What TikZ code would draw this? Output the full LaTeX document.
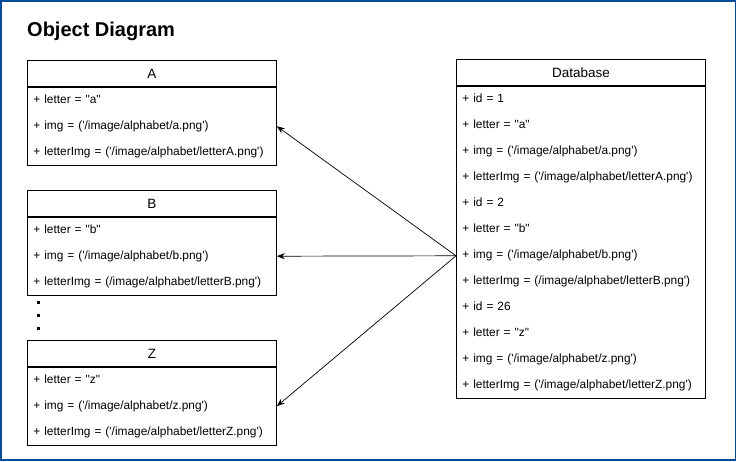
\documentclass[tikz,border=0pt]{standalone}
\usepackage{fontspec}
\setmainfont{Liberation Sans}[Ligatures=TeXOff]
\usetikzlibrary{positioning,arrows.meta}
\definecolor{azulmarco}{RGB}{0,76,153}
\tikzstyle{cabecera} = [draw, rectangle, line width=0.8pt, minimum width=249pt, minimum height=26pt, inner sep=0pt, font=\fontsize{13.5}{16}\selectfont]
\tikzstyle{atributos} = [draw, rectangle, line width=0.8pt, minimum width=249pt, text width=237pt, inner xsep=6pt, inner ysep=0pt, align=left, font=\fontsize{11.9}{26}\selectfont]
\tikzstyle{titulo} = [inner sep=0pt, font=\fontsize{20}{24}\selectfont\bfseries]
\tikzstyle{flecha} = [-{Stealth[length=8pt,width=6pt]}, line width=0.7pt]

\begin{document}
\begin{tikzpicture}[x=1pt, y=-1pt]
	\useasboundingbox (0,0) rectangle (737,461);
	\draw[azulmarco, line width=1.5pt] (0.75,0.75) rectangle (735.5,460);
	\node[titulo, anchor=base west] (titulo) at (27,36.5) {Object Diagram};
	% objeto A
	\node[cabecera, anchor=north west] (A) at (27,60) {A};
	\node[atributos, minimum height=78pt, below=0pt of A] (Aattr) {
		+ letter = "a"\\
		+ img = ('/image/alphabet/a.png')\\
		+ letterImg = ('/image/alphabet/letterA.png')};
	% objeto B
	\node[cabecera, anchor=north west] (B) at (27,190) {B};
	\node[atributos, minimum height=78pt, below=0pt of B] (Battr) {
		+ letter = "b"\\
		+ img = ('/image/alphabet/b.png')\\
		+ letterImg = (/image/alphabet/letterB.png')};
	\foreach \y in {302.5,315.5,328.5}
		\fill (36.5,\y-1.5) rectangle (39.5,\y+1.5);
	% objeto Z
	\node[cabecera, anchor=north west] (Z) at (27,340) {Z};
	\node[atributos, minimum height=78pt, below=0pt of Z] (Zattr) {
		+ letter = "z"\\
		+ img = ('/image/alphabet/z.png')\\
		+ letterImg = ('/image/alphabet/letterZ.png')};
	% base de datos
	\node[cabecera, anchor=north west] (db) at (456,59) {Database};
	\node[atributos, minimum height=312pt, below=0pt of db] (dbattr) {
		+ id = 1\\
		+ letter = "a"\\
		+ img = ('/image/alphabet/a.png')\\
		+ letterImg = ('/image/alphabet/letterA.png')\\
		+ id = 2\\
		+ letter = "b"\\
		+ img = ('/image/alphabet/b.png')\\
		+ letterImg = (/image/alphabet/letterB.png')\\
		+ id = 26\\
		+ letter = "z"\\
		+ img = ('/image/alphabet/z.png')\\
		+ letterImg = ('/image/alphabet/letterZ.png')};
	\coordinate (origen) at ([yshift=-170pt]dbattr.north west);
	\draw[flecha] (origen) -- (Aattr.east);
	\draw[flecha] (origen) -- (Battr.east);
	\draw[flecha] (origen) -- (Zattr.east);
\end{tikzpicture}
\end{document}
